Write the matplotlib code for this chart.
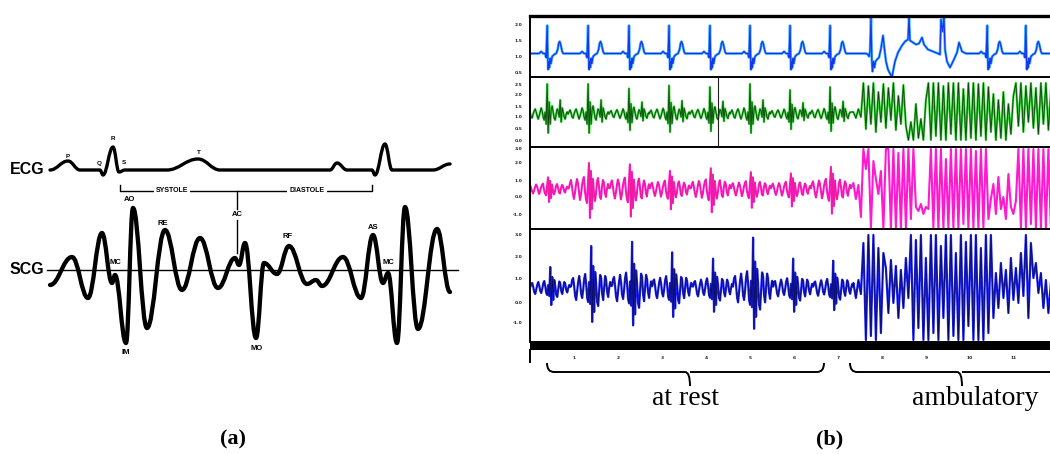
import numpy as np
import matplotlib
matplotlib.use('Agg')
import matplotlib.pyplot as plt
from matplotlib.path import Path
from matplotlib.patches import PathPatch

# ---------------- panel (a): idealised ECG / SCG (time and amplitude in a.u.)
ecg_t = [0, 18, 30, 50, 53, 63, 69, 75, 117, 148, 170, 280, 287, 297, 322, 325, 335, 342, 383, 400]
ecg_v = [0, 9, 0, 0, -5, 23, -2, 0, 0, 11, 0, 0, 7, 0, 0, -5, 26, 0, 0, 6]

scg_t = [0, 22, 38, 52, 62, 65, 76, 83, 97, 115, 132, 150, 168, 185, 189, 195, 206, 214,
         227, 239, 257, 266, 272, 293, 311, 323, 333, 338, 347, 355, 368, 387, 400]
scg_v = [-15, 13, -28, 37, -13, -5, -73, 62, -58, 40, -20, 32, -18, 12, 5, 27, -68, 7,
         -4, 24, -14, -10, -16, 13, -28, 35, -13, -3, -73, 63, -59, 41, -22]

ecg_marks = ['P', 'Q', 'R', 'S', 'T']
ecg_mark_t = [18, 49, 63, 74, 149]
ecg_mark_v = [13, 7, 31, 7, 17]

scg_marks = ['MC', 'AO', 'RE', 'IM', 'MO', 'RF', 'AS', 'MC']
scg_mark_t = [65, 80, 113, 76, 207, 238, 323, 338]
scg_mark_v = [7, 70, 46, -82, -78, 33, 42, 7]

# ---------------- panel (b): recordings, time in s
ecg_beats = [0.39, 1.32, 2.25, 3.16, 4.09, 5.00, 5.91, 6.82]
late_beats = [10.39, 11.27]

ecg_tmpl_dt = [-0.455, -0.182, -0.136, -0.091, -0.045, -0.023, 0, 0.014, 0.023, 0.036, 0.05,
               0.068, 0.086, 0.114, 0.159, 0.205, 0.239, 0.261, 0.284, 0.307, 0.341, 0.364, 0.455]
ecg_tmpl_v = [0, 0, 2, 0, 0, -4, 28, -4, -16, -8, -14, -5, -10, -3, -1, 0, 4, 10, 12, 9, 2, 0, 0]

# irregular section of the ECG trace
ecg_irr_t = [7.295, 7.636, 7.682, 7.705, 7.727, 7.750, 7.768, 7.784, 7.807, 7.830, 7.852, 7.886,
             7.932, 7.977, 8.023, 8.057, 8.091, 8.136, 8.182, 8.227, 8.250, 8.295, 8.364, 8.455,
             8.523, 8.591, 8.614, 8.636, 8.705, 8.773, 8.841, 8.909, 8.955, 9.045, 9.159, 9.273,
             9.318, 9.341, 9.375, 9.409, 9.432, 9.477, 9.545, 9.614, 9.705, 9.750, 9.818, 9.909]
ecg_irr_v = [0, 0, -1, -3, 2, 36, -6, -18, -8, -14, -8, -6, -4, 5, 18, 4, -8, -16, -20, -24,
             -18, -8, 1, 8, 12, 14, 36, 13, 11, 9, 10, 16, 9, 4, 2, 0, -1, 34, 22, 36, 4, -8,
             -14, -8, 1, 11, 2, 0]

fs = 44.0  # template samples per second
green_tmpl = [0, 2, 4, 1, -3, -4, 0, 3, 5, 2, -2, -5, -2, 2, 6, 3, -3, -6, 2, -10, 30,
              -19, 12, -10, 4, 8, 2, -4, -6, 0, 5, 3, -3, 14, -8, 6, 2, -3, -5, 0, 2]
pink_tmpl = [1, 6, 9, 3, -5, -10, -4, 4, 10, 6, -3, -11, -6, 3, 9, 12, -2, -10, -14, 6, 26,
             -29, 18, -20, 10, -4, -12, -5, 7, 11, 3, -8, -10, 2, 9, 6, -4, -8, 0, 5, 1]
blue_tmpl = [2, 8, 10, 2, -8, -12, -3, 6, 12, 5, -6, -10, -2, 9, 14, 4, -10, -14, 6, -16, 42,
             -34, 22, -24, 16, 4, -14, -18, -2, 13, 10, -6, -12, 0, 12, 8, -4, -9, 0, 6, 2]

green_gain = [1.0, 1.0, 0.85, 0.95, 0.9, 1.0, 0.8, 0.9]
pink_gain = [0.45, 1.0, 0.95, 0.7, 0.8, 0.65, 0.6, 0.85]
blue_gain = [0.5, 1.0, 1.1, 0.85, 0.7, 1.2, 0.7, 0.65]

amb_t0 = 7.35
amb_fs = 17.6
green_amb = [2, -4, 5, -3,
             31, -15, 28, -10, 31, -18, 22, -8, 30, -14, 26, -6, 31, -16, 18, -10, 29, -12,
             -26, -8, -26, 10, -24, -5, -26, 14,
             31, -26, 31, -22, 31, -26, 28, -26, 31, -20, 31, -26, 31, -26, 25, -26, 31, -24,
             31, -26, 30, -22, 31, -26, 27, -18,
             20, -26, 14, -24, 22, -26, 10, -20, 18,
             31, -12, 31, -18, 28, -8, 31, -14, 26, -20, 31, -10, 31, -16, 24]
pink_amb = [6, -10, 4, -28,
            40, 20, 40, -39, 28,
            10, -5, 18, -39, 40,
            40, -39, 40, -39, 36, -39, 40, -39, 40, -30, 40,
            -18, -22, -15, -25, -18, -20,
            40, -39, 40, -39, 40, -39, 30, -39, 40, -39, 40, -39, 40, -35, 40, -39, 40, -39,
            38, -39, 40, -39, 40, -30,
            -10, 5, -25, 12, -20, -8, -30, 15, -18, -25, -12,
            40, -39, 40, -39, 40, -35, 40, -39, 40, -39, 40, -39, 40, -39]
blue_amb = [5, -10, 8, -6,
            45, -52, 53, -48, 53, -52, 40, -45, 35,
            20, -25, 28, -15, 22, -30, 18, -20, 30, -10,
            53, -52, 48, -40, 53, -52, 30, -52, 53, -45, 53, -52, 42, -30, 53, -52, 53, -48,
            35, -52, 53, -52, 46, -38, 53, -52, 53, -52, 40, -52, 53, -45, 53, -30,
            15, -20, 25, -10, 18, -25, 30, -12, 20, -15, 35, -8,
            53, -30, 45, 10, 25, -5, 15, -20, 8, -25, 5]

s1_ticks, s1_labels = [29.5, 12.5, -3.5, -18.5], ['2.0', '1.5', '1.0', '0.5']
s2_ticks, s2_labels = [29, 20, 8, -2, -14, -26], ['2.5', '2.0', '1.5', '1.0', '0.5', '0.0']
s3_ticks, s3_labels = [40, 26, 8, -8, -25], ['3.0', '2.0', '1.0', '0.0', '-1.0']
s4_ticks, s4_labels = [53, 31, 9, -14, -35], ['3.0', '2.0', '1.0', '0.0', '-1.0']
time_ticks = list(range(1, 12))


def smooth_path(t, v, k=0.4):
    verts = [(t[0], v[0])]
    codes = [Path.MOVETO]
    for i in range(len(t) - 1):
        d = (t[i + 1] - t[i]) * k
        verts += [(t[i] + d, v[i]), (t[i + 1] - d, v[i + 1]), (t[i + 1], v[i + 1])]
        codes += [Path.CURVE4] * 3
    return Path(verts, codes)


def beat_train(times, gains, tmpl, shift=0.0):
    tmpl = np.array(tmpl, dtype=float)
    dt = (np.arange(len(tmpl)) - len(tmpl) // 2) / fs
    tt = np.concatenate([b + shift + dt for b in times])
    vv = np.concatenate([g * tmpl for g in gains])
    return tt, vv


W, H = 1050, 454
fig = plt.figure(figsize=(10.5, 4.54), dpi=100)
lab_font = ['Liberation Sans', 'DejaVu Sans']
serif = ['Liberation Serif', 'DejaVu Serif']

# ---------------- panel (a)
ax_a = fig.add_axes([0, 0, 500 / W, 1])
ax_a.set_xlim(-50, 450)
ax_a.set_ylim(-184, 270)
ax_a.axis('off')
ecg_off = 100
ax_a.add_patch(PathPatch(smooth_path(ecg_t, np.array(ecg_v) + ecg_off), fill=False,
                         lw=2.4, color='black', capstyle='round', joinstyle='round'))
ax_a.plot([-3, 408], [0, 0], color='black', lw=1.0)
ax_a.add_patch(PathPatch(smooth_path(scg_t, scg_v), fill=False, lw=3.1, color='black',
                         capstyle='round', joinstyle='round'))
ax_a.text(-40, ecg_off, 'ECG', family=lab_font, fontweight='bold', fontsize=11.5, va='center')
ax_a.text(-40, 0, 'SCG', family=lab_font, fontweight='bold', fontsize=11.5, va='center')
for s, t, v in zip(ecg_marks, ecg_mark_t, ecg_mark_v):
    ax_a.text(t, v + ecg_off, s, family=lab_font, fontweight='bold', fontsize=4.5,
              ha='center', va='center')
for s, t, v in zip(scg_marks, scg_mark_t, scg_mark_v):
    ax_a.text(t, v, s, family=lab_font, fontweight='bold', fontsize=5.5,
              ha='center', va='center')
# systole / diastole bracket
ax_a.plot([70, 70, 322, 322], [85, 79, 79, 85], color='black', lw=1.0)
ax_a.plot([187, 187], [79, 61], color='black', lw=1.0)
ax_a.plot([187, 187], [50, 17], color='black', lw=1.0)
ax_a.text(187, 55, 'AC', family=lab_font, fontweight='bold', fontsize=5.5, ha='center', va='center')
for s, t in [('SYSTOLE', 122), ('DIASTOLE', 257)]:
    ax_a.text(t, 79, s, family=lab_font, fontweight='bold', fontsize=5, ha='center', va='center',
              bbox=dict(facecolor='white', edgecolor='none', pad=1.5))

# ---------------- panel (b)
left, width = 530 / W, 520 / W
xmax = 520 / 44.0


def strip(top, bottom, ylim, ticks, labels, top_lw=1.4):
    ax = fig.add_axes([left, (H - bottom) / H, width, (bottom - top) / H])
    ax.set_xlim(0, xmax)
    ax.set_ylim(*ylim)
    ax.set_xticks([])
    ax.set_yticks(ticks)
    ax.set_yticklabels(labels, fontsize=3.2, fontweight='bold', color='#222222')
    ax.tick_params(axis='y', length=0, pad=5.5)
    for side in ['right', 'bottom']:
        ax.spines[side].set_visible(False)
    ax.spines['top'].set_linewidth(top_lw)
    ax.spines['left'].set_linewidth(1.4)
    return ax


ax1 = strip(16, 77, (-23.5, 37.5), s1_ticks, s1_labels, top_lw=2.4)
ax2 = strip(77, 147, (-33, 37), s2_ticks, s2_labels)
ax3 = strip(147, 229, (-40, 42), s3_ticks, s3_labels)
ax4 = strip(229, 342, (-54, 59), s4_ticks, s4_labels)

# ECG strip
dt_e = np.array(ecg_tmpl_dt)
t_rest = np.concatenate([b + dt_e for b in ecg_beats])
v_rest = np.concatenate([np.array(ecg_tmpl_v, float) for _ in ecg_beats])
t_late = np.concatenate([b + dt_e for b in late_beats])
v_late = np.concatenate([np.array(ecg_tmpl_v, float) for _ in late_beats])
t1 = np.concatenate([t_rest, ecg_irr_t, t_late, [xmax + 0.1]])
v1 = np.concatenate([v_rest, ecg_irr_v, v_late, [0]])
ax1.plot(t1, v1, color='#47b4ff', lw=1.9, solid_joinstyle='round')
ax1.plot(t1, v1, color='#1238f0', lw=0.9, solid_joinstyle='round')

amb_t = amb_t0 + np.arange(len(green_amb)) / amb_fs

# green SCG strip
tg, vg = beat_train(ecg_beats, green_gain, green_tmpl, 0.0)
tg, vg = np.concatenate([tg, amb_t]), np.concatenate([vg, green_amb])
ax2.plot(tg, vg, color='#2ed12e', lw=1.6)
ax2.plot(tg, vg, color='#0a2a0a', lw=0.6, alpha=0.85)
ax2.axvline((718 - 530) / 44.0, color='#222222', lw=0.8)

# magenta strip
tp, vp = beat_train(ecg_beats, pink_gain, pink_tmpl, 0.02)
n_rest = len(ecg_beats) * len(pink_tmpl)
tp, vp = np.concatenate([tp, amb_t]), np.concatenate([vp, pink_amb])
ax3.plot(tp, vp, color='#ff1ad0', lw=1.5)
ax3.plot(tp[:n_rest], vp[:n_rest], color='#d0204a', lw=0.4, alpha=0.6)

# blue strip
tb, vb = beat_train(ecg_beats, blue_gain, blue_tmpl, 0.07)
tb, vb = np.concatenate([tb, amb_t]), np.concatenate([vb, blue_amb])
ax4.plot(tb, vb, color='#1c22f5', lw=1.6)
ax4.plot(tb, vb, color='#05053a', lw=0.55, alpha=0.8)

# time ruler
axt = fig.add_axes([left, (H - 350) / H, width, 9 / H])
axt.set_facecolor('black')
axt.set_xlim(0, xmax)
axt.set_yticks([])
axt.set_xticks(time_ticks)
axt.set_xticklabels([str(i) for i in time_ticks], fontsize=3.2, fontweight='bold', color='#222222')
axt.tick_params(axis='x', length=0, pad=4)
for sp in axt.spines.values():
    sp.set_visible(False)

# ---------------- overlay: braces and captions (figure pixels)
ov = fig.add_axes([0, 0, 1, 1])
ov.set_xlim(0, W)
ov.set_ylim(H, 0)
ov.axis('off')
ov.plot([530, 530], [350, 362], color='black', lw=1.4)


def brace(x0, x1, xm, y0=363, y1=372, y2=386):
    verts = [(x0, y0), (x0, y1), (x0 + 7, y1), (xm - 5, y1), (xm, y1), (xm, y2),
             (xm, y1), (xm + 5, y1), (x1 - 7, y1), (x1, y1), (x1, y0)]
    codes = [Path.MOVETO, Path.CURVE3, Path.CURVE3, Path.LINETO, Path.CURVE3, Path.CURVE3,
             Path.MOVETO, Path.LINETO, Path.LINETO, Path.CURVE3, Path.CURVE3]
    ov.add_patch(PathPatch(Path(verts, codes), fill=False, lw=1.4, color='black'))


brace(547, 824, 690)
brace(850, 1075, 962)
ov.text(685, 405, 'at rest', family=serif, fontsize=20, ha='center', va='baseline')
ov.text(975, 405, 'ambulatory', family=serif, fontsize=20, ha='center', va='baseline')
ov.text(233, 439, '(a)', family=serif, fontsize=16, fontweight='bold', ha='center', va='center')
ov.text(830, 439, '(b)', family=serif, fontsize=16, fontweight='bold', ha='center', va='center')

fig.savefig('out.png', dpi=100, facecolor='white')
